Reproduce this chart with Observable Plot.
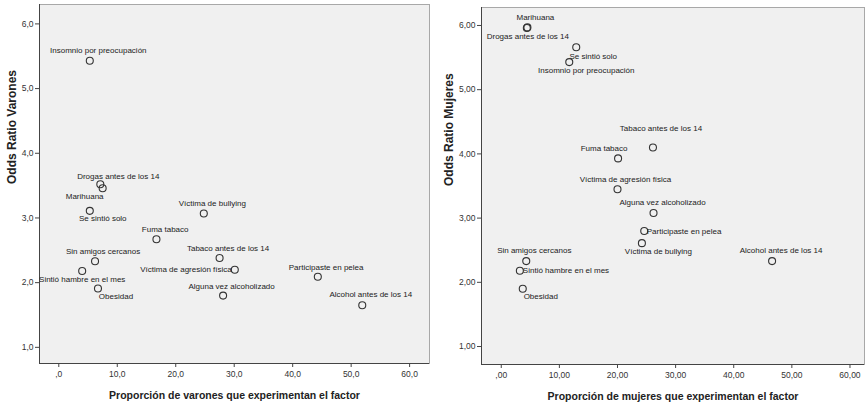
<!DOCTYPE html>
<html>
<head>
<meta charset="utf-8">
<script src="https://cdn.jsdelivr.net/npm/d3@7"></script>
<script src="https://cdn.jsdelivr.net/npm/@observablehq/plot@0.6"></script>
<style>
  html, body { margin: 0; padding: 0; background: #fff; }
  #wrap { position: relative; width: 865px; height: 405px; display: flex; }
  #wrap svg { display: block; }
</style>
</head>
<body>
<div id="wrap"></div>
<script>
// ---- Data ----
const factors = [
  "Insomnio por preocupación", "Drogas antes de los 14", "Marihuana", "Se sintió solo",
  "Víctima de bullying", "Fuma tabaco", "Sin amigos cercanos", "Tabaco antes de los 14",
  "Víctima de agresión física", "Sintió hambre en el mes", "Obesidad",
  "Alguna vez alcoholizado", "Participaste en pelea", "Alcohol antes de los 14"
];
const propVarones = [5.3, 7.1, 7.5, 5.3, 24.8, 16.7, 6.2, 27.5, 30.1, 4.0, 6.7, 28.1, 44.3, 51.9];
const orVarones   = [5.43, 3.52, 3.46, 3.11, 3.07, 2.67, 2.33, 2.38, 2.20, 2.18, 1.91, 1.80, 2.09, 1.65];
const propMujeres = [11.7, 4.4, 4.5, 12.9, 24.2, 20.1, 4.3, 26.1, 20.0, 3.2, 3.7, 26.2, 24.6, 46.6];
const orMujeres   = [5.43, 5.96, 5.97, 5.66, 2.61, 3.93, 2.33, 4.10, 3.45, 2.18, 1.90, 3.08, 2.80, 2.33];

const xTicks = [0, 10, 20, 30, 40, 50, 60];
const xTickLabelsV = [",0", "10,0", "20,0", "30,0", "40,0", "50,0", "60,0"];
const xTickLabelsM = [",00", "10,00", "20,00", "30,00", "40,00", "50,00", "60,00"];
const yTicks = [1, 2, 3, 4, 5, 6];
const yTickLabelsV = ["1,0", "2,0", "3,0", "4,0", "5,0", "6,0"];
const yTickLabelsM = ["1,00", "2,00", "3,00", "4,00", "5,00", "6,00"];

// ---- Layout (label placement offsets in px, per factor) ----
const placeV = {
  "Insomnio por preocupación": [8.5, -10, "middle"],
  "Drogas antes de los 14": [18, -8, "middle"],
  "Marihuana": [-18, 8, "middle"],
  "Se sintió solo": [13, 8, "middle"],
  "Víctima de bullying": [8.5, -10, "middle"],
  "Fuma tabaco": [8.7, -10, "middle"],
  "Sin amigos cercanos": [8, -10, "middle"],
  "Tabaco antes de los 14": [8.5, -10, "middle"],
  "Víctima de agresión física": [-3, 0, "end"],
  "Sintió hambre en el mes": [0, 8.5, "middle"],
  "Obesidad": [18, 8, "middle"],
  "Alguna vez alcoholizado": [8.5, -9, "middle"],
  "Participaste en pelea": [8.3, -9.3, "middle"],
  "Alcohol antes de los 14": [8.5, -10.5, "middle"]
};
const placeM = {
  "Marihuana": [8, -10, "middle"],
  "Drogas antes de los 14": [1, 8, "middle"],
  "Se sintió solo": [17, 8.7, "middle"],
  "Insomnio por preocupación": [17, 8.7, "middle"],
  "Tabaco antes de los 14": [8, -18.7, "middle"],
  "Fuma tabaco": [-14, -10, "middle"],
  "Víctima de agresión física": [8, -9.7, "middle"],
  "Alguna vez alcoholizado": [9, -10.6, "middle"],
  "Participaste en pelea": [2.5, 0, "start"],
  "Víctima de bullying": [16.5, 8, "middle"],
  "Alcohol antes de los 14": [9, -10.3, "middle"],
  "Sin amigos cercanos": [8, -10.3, "middle"],
  "Sintió hambre en el mes": [3, 0, "start"],
  "Obesidad": [18, 7.3, "middle"]
};

const FONT = "'Liberation Sans', Arial, sans-serif";

function panel({props, ors, place, xLabels, yLabels, xTitle, yTitle, width, margins, xDomain, yDomain, yTitleDx}) {
  const data = factors.map((f, i) => ({name: f, x: props[i], y: ors[i]}));
  const labelMarks = data.map(d => {
    const [dx, dy, anchor] = place[d.name];
    return Plot.text([d], {x: "x", y: "y", text: "name", dx, dy, textAnchor: anchor,
      fontSize: 8, fill: "#222"});
  });
  return Plot.plot({
    width, height: 405,
    marginLeft: margins[0], marginRight: margins[1], marginTop: margins[2], marginBottom: margins[3],
    style: {fontFamily: FONT, fontSize: "8.5px", color: "#333", background: "#fff", overflow: "visible"},
    x: {domain: xDomain},
    y: {domain: yDomain},
    marks: [
      Plot.frame({fill: "#f0f0f0", stroke: "#a8a8a8"}),
      Plot.ruleX([xDomain[0]], {stroke: "#444"}),
      Plot.ruleY([yDomain[0]], {stroke: "#444"}),
      Plot.axisX({ticks: xTicks, tickFormat: d => xLabels[xTicks.indexOf(d)], tickSize: 4, tickPadding: 3, label: null, stroke: "#444"}),
      Plot.axisY({ticks: yTicks, tickFormat: d => yLabels[yTicks.indexOf(d)], tickSize: 4, tickPadding: 2, label: null, stroke: "#444"}),
      Plot.dot(data, {x: "x", y: "y", r: 3.5, stroke: "#333", strokeWidth: 1.1, fill: "none"}),
      ...labelMarks,
      Plot.text([xTitle], {frameAnchor: "bottom", dy: 32, fontSize: 10.5, fontWeight: "bold", fill: "#222", lineAnchor: "middle"}),
      Plot.text([yTitle], {frameAnchor: "left", dx: yTitleDx, rotate: -90, fontSize: 12, fontWeight: "bold", fill: "#222", lineAnchor: "middle"})
    ]
  });
}

const wrap = document.getElementById("wrap");
wrap.appendChild(panel({
  props: propVarones, ors: orVarones, place: placeV,
  xLabels: xTickLabelsV, yLabels: yTickLabelsV,
  xTitle: "Proporción de varones que experimentan el factor",
  yTitle: "Odds Ratio Varones",
  width: 432, margins: [39, 3, 4, 42],
  xDomain: [-3.3, 63.4], yDomain: [0.75, 6.30], yTitleDx: -27.5
}));
wrap.appendChild(panel({
  props: propMujeres, ors: orMujeres, place: placeM,
  xLabels: xTickLabelsM, yLabels: yTickLabelsM,
  xTitle: "Proporción de mujeres que experimentan el factor",
  yTitle: "Odds Ratio Mujeres",
  width: 433, margins: [49, 1, 7, 41],
  xDomain: [-3.4, 62.5], yDomain: [0.72, 6.28], yTitleDx: -32.5
}));
</script>
</body>
</html>
